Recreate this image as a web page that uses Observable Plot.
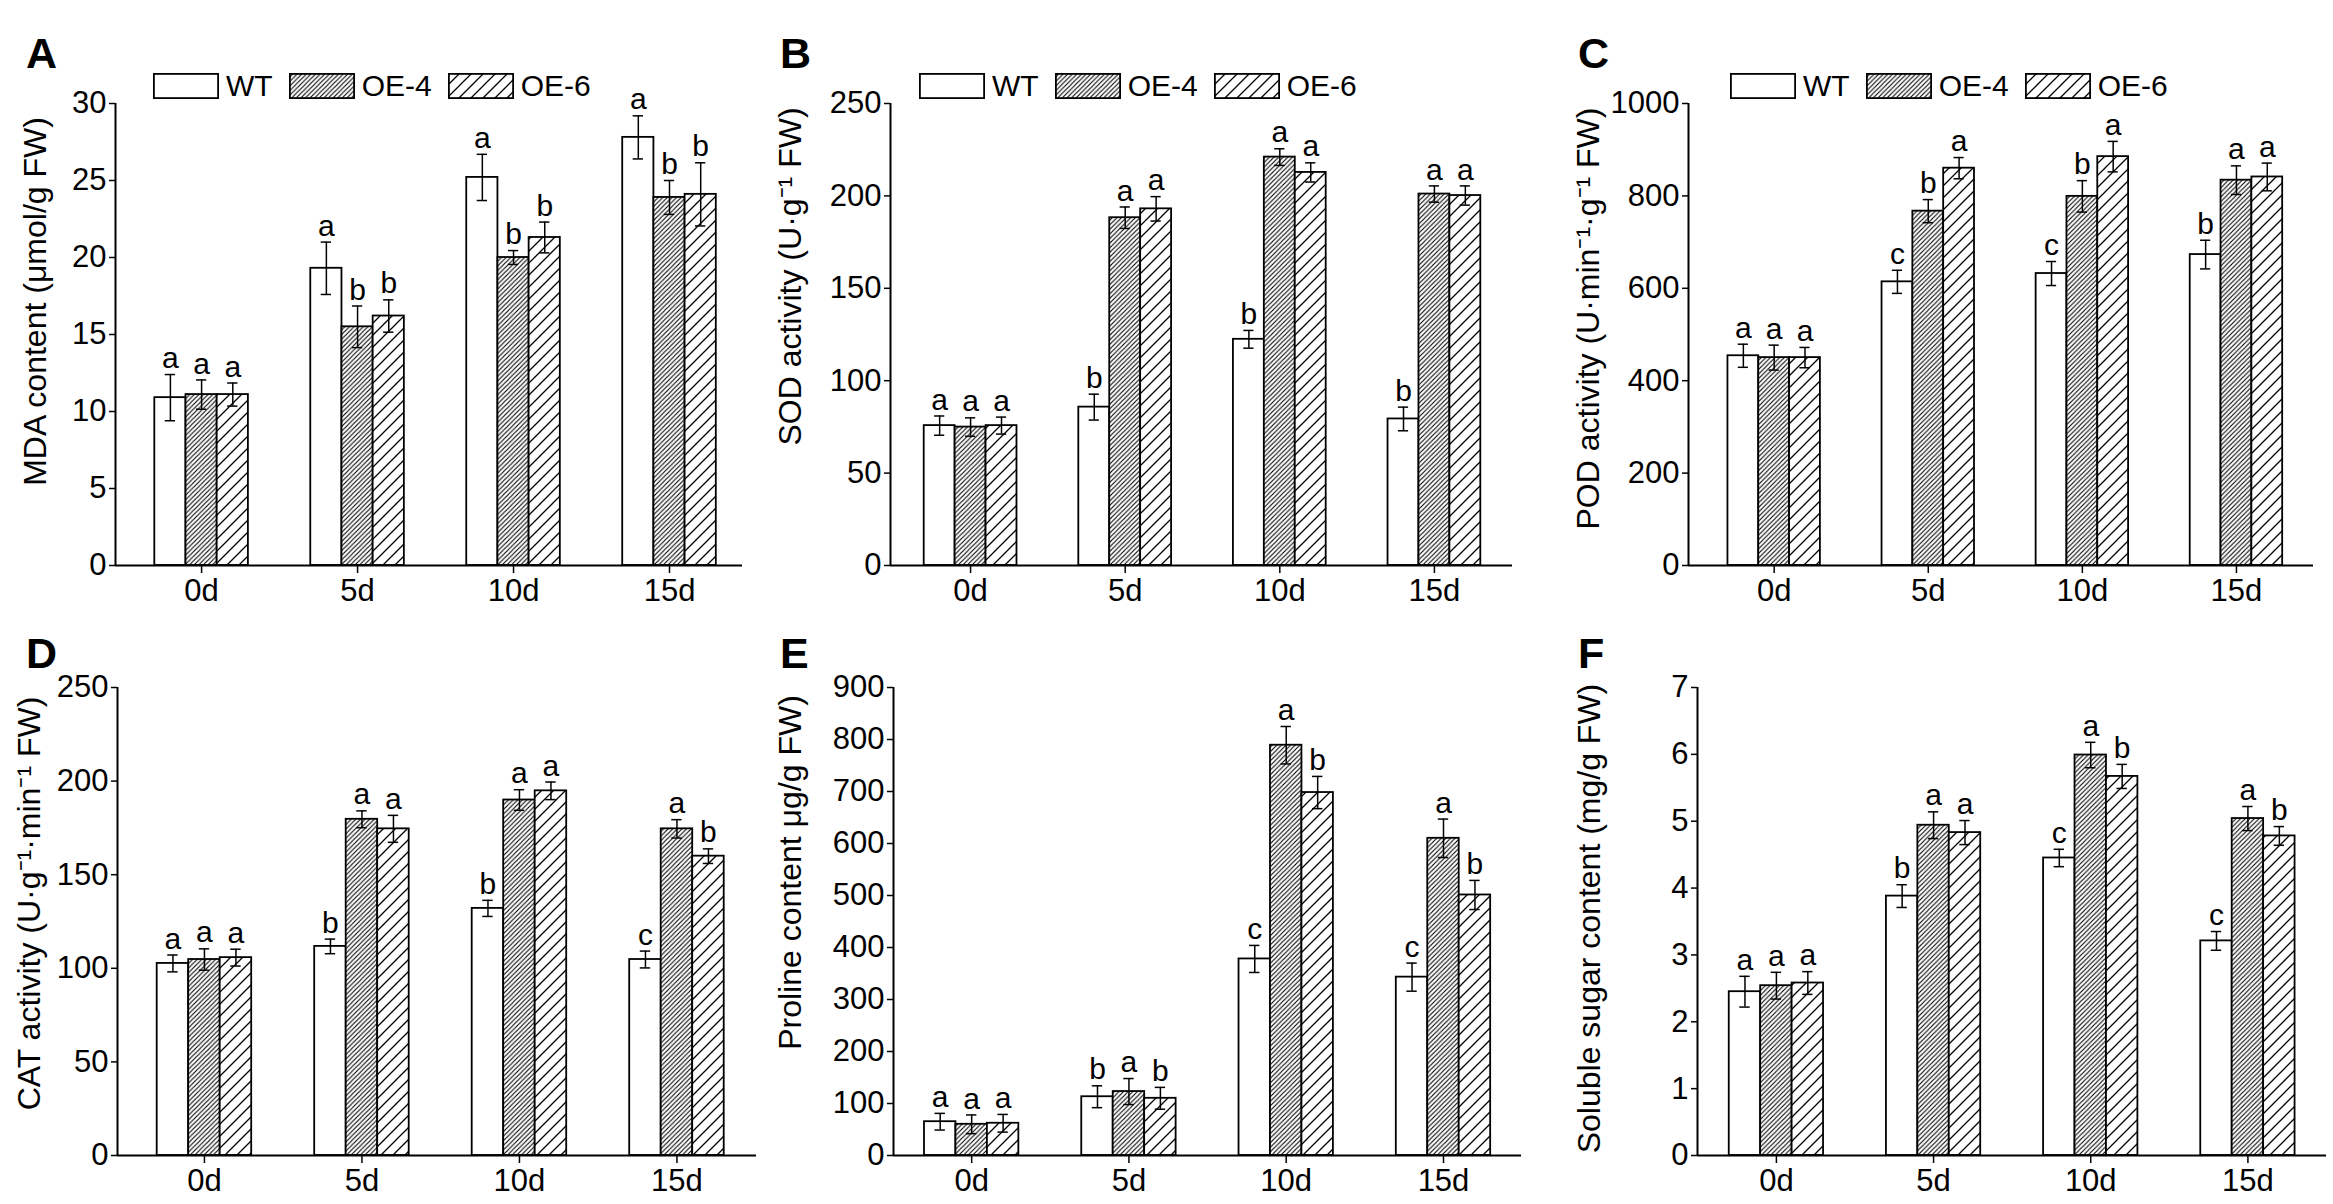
<!DOCTYPE html>
<html>
<head>
<meta charset="utf-8">
<script src="https://cdn.jsdelivr.net/npm/d3@7"></script>
<script src="https://cdn.jsdelivr.net/npm/@observablehq/plot@0.6"></script>
<style>
  body { margin: 0; background: #fff; font-family: "Liberation Sans", Arial, sans-serif; }
  #fig { position: relative; width: 2333px; height: 1204px; overflow: hidden; background: #fff; }
  .panel { position: absolute; }
  .panel svg { overflow: visible; }
  .tag { position: absolute; font-weight: bold; font-size: 43px; line-height: 1; }
  .legend { position: absolute; display: flex; align-items: center; font-size: 30px; line-height: 1; height: 26px; }
  .legend svg { display: block; }
  .legend span { margin: 0 16px 0 7px; }
</style>
</head>
<body>
<svg width="0" height="0" style="position:absolute">
  <defs>
    <pattern id="hatchOE4" patternUnits="userSpaceOnUse" width="4.6" height="4.6">
      <rect width="4.6" height="4.6" fill="white"></rect>
      <path d="M-1,1 L1,-1 M0,4.6 L4.6,0 M3.6,5.6 L5.6,3.6" stroke="black" stroke-width="1.1"></path>
    </pattern>
    <pattern id="hatchOE6" patternUnits="userSpaceOnUse" width="12" height="12">
      <rect width="12" height="12" fill="white"></rect>
      <path d="M-1,1 L1,-1 M0,12 L12,0 M11,13 L13,11" stroke="black" stroke-width="1.3"></path>
    </pattern>
  </defs>
</svg>
<div id="fig"></div>
<script>
// groups and genotypes
const days = ["0d", "5d", "10d", "15d"];
const genotypes = ["WT", "OE-4", "OE-6"];
const fills = ["white", "url(#hatchOE4)", "url(#hatchOE6)"];

// A: MDA  (rows: WT, OE-4, OE-6)
const mdaMean = [[10.9, 19.3, 25.2, 27.8], [11.1, 15.5, 20.0, 23.9], [11.1, 16.2, 21.3, 24.1]];
const mdaErr  = [[1.5, 1.7, 1.5, 1.4], [0.95, 1.35, 0.45, 1.1], [0.75, 1.05, 1.0, 2.05]];
const mdaSig  = [["a", "a", "a", "a"], ["a", "b", "b", "b"], ["a", "b", "b", "b"]];
const mdaTicks = [0, 5, 10, 15, 20, 25, 30];

// B: SOD
const sodMean = [[75.7, 85.7, 122.4, 79.3], [74.9, 188.2, 221, 201], [75.7, 193, 212.7, 200.2]];
const sodErr  = [[5.2, 7, 4.8, 6.4], [5, 5.8, 4.5, 4.4], [4.6, 6.6, 5.2, 5.2]];
const sodSig  = [["a", "b", "b", "b"], ["a", "a", "a", "a"], ["a", "a", "a", "a"]];
const sodTicks = [0, 50, 100, 150, 200, 250];

// C: POD
const podMean = [[454, 614, 632, 673], [450, 767, 799, 834], [450, 860, 885, 841]];
const podErr  = [[25, 25, 26, 31], [27, 25, 34, 31], [22, 23, 33, 30]];
const podSig  = [["a", "c", "c", "b"], ["a", "b", "b", "a"], ["a", "a", "a", "a"]];
const podTicks = [0, 200, 400, 600, 800, 1000];

// D: CAT
const catMean = [[102.6, 111.7, 132, 104.7], [104.7, 179.6, 189.9, 174.5], [105.7, 174.5, 194.8, 159.9]];
const catErr  = [[4.5, 3.9, 4.3, 4.5], [5.7, 4.5, 5.5, 4.9], [4.5, 7.2, 4.7, 3.9]];
const catSig  = [["a", "b", "b", "c"], ["a", "a", "a", "a"], ["a", "a", "a", "b"]];
const catTicks = [0, 50, 100, 150, 200, 250];

// E: Proline
const proMean = [[65, 113, 378, 343], [60, 123, 789, 610], [62, 110, 698, 501]];
const proErr  = [[16, 21, 26, 27], [18, 25, 36, 37], [17, 21, 31, 28]];
const proSig  = [["a", "b", "c", "c"], ["a", "a", "a", "a"], ["a", "b", "b", "b"]];
const proTicks = [0, 100, 200, 300, 400, 500, 600, 700, 800, 900];

// F: Soluble sugar
const sugMean = [[2.45, 3.88, 4.45, 3.21], [2.54, 4.94, 5.99, 5.04], [2.58, 4.83, 5.67, 4.78]];
const sugErr  = [[0.23, 0.17, 0.13, 0.14], [0.2, 0.2, 0.19, 0.18], [0.17, 0.18, 0.18, 0.14]];
const sugSig  = [["a", "b", "c", "c"], ["a", "a", "a", "a"], ["a", "a", "b", "b"]];
const sugTicks = [0, 1, 2, 3, 4, 5, 6, 7];

const panels = [
  {tag: "A", mean: mdaMean, err: mdaErr, sig: mdaSig, ticks: mdaTicks, title: "MDA content (\u03bcmol/g FW)",
   left: 0, top: 0, width: 778, ml: 115, mr: 36, xd: [-0.552, 3.468], tdx: -80, tdy: -33, legend: 153},
  {tag: "B", mean: sodMean, err: sodErr, sig: sodSig, ticks: sodTicks, title: "SOD activity (U\u00b7g\u207b\u00b9 FW)",
   left: 778, top: 0, width: 775, ml: 112, mr: 41, xd: [-0.518, 3.505], tdx: -100, tdy: -58, legend: 919},
  {tag: "C", mean: podMean, err: podErr, sig: podSig, ticks: podTicks, title: "POD activity (U\u00b7min\u207b\u00b9\u00b7g\u207b\u00b9 FW)",
   left: 1553, top: 0, width: 780, ml: 135, mr: 20, xd: [-0.556, 3.5], tdx: -100, tdy: -16, legend: 1730},
  {tag: "D", mean: catMean, err: catErr, sig: catSig, ticks: catTicks, title: "CAT activity (U\u00b7g\u207b\u00b9\u00b7min\u207b\u00b9 FW)",
   left: 0, top: 600, width: 778, ml: 117, mr: 22, xd: [-0.552, 3.505], tdx: -88, tdy: -18},
  {tag: "E", mean: proMean, err: proErr, sig: proSig, ticks: proTicks, title: "Proline content \u03bcg/g FW)",
   left: 778, top: 600, width: 775, ml: 115, mr: 32, xd: [-0.497, 3.496], tdx: -103, tdy: -49},
  {tag: "F", mean: sugMean, err: sugErr, sig: sugSig, ticks: sugTicks, title: "Soluble sugar content (mg/g FW)",
   left: 1553, top: 600, width: 780, ml: 144, mr: 7, xd: [-0.502, 3.5], tdx: -108, tdy: -3},
];

const fig = document.querySelector("#fig");
const barW = 0.2;
const capW = 0.033;

for (const p of panels) {
  const rows = [];
  genotypes.forEach((g, gi) => {
    days.forEach((day, i) => {
      rows.push({g, gi, i, day, v: p.mean[gi][i], e: p.err[gi][i], s: p.sig[gi][i], xc: i + (gi - 1) * barW});
    });
  });
  const row1 = p.top === 0;
  const mt = row1 ? 103 : 87;
  const plotH = row1 ? 462 : 468;
  const mb = row1 ? 45 : 49;

  const bars = genotypes.map((g, gi) =>
    Plot.rect(rows.filter((d) => d.gi === gi), {
      x1: (d) => d.xc - barW / 2,
      x2: (d) => d.xc + barW / 2,
      y1: 0,
      y2: "v",
      fill: fills[gi],
      stroke: "black",
      strokeWidth: 1.8,
    })
  );

  const plot = Plot.plot({
    width: p.width,
    height: mt + plotH + mb,
    marginLeft: p.ml,
    marginRight: p.mr,
    marginTop: mt,
    marginBottom: mb,
    style: {fontSize: "31px", fontFamily: '"Liberation Sans", Arial, sans-serif', background: "transparent", color: "black"},
    x: {type: "linear", domain: p.xd},
    y: {domain: [0, p.ticks[p.ticks.length - 1]]},
    marks: [
      ...bars,
      Plot.ruleX(rows, {x: "xc", y1: (d) => d.v - d.e, y2: (d) => d.v + d.e, strokeWidth: 1.5}),
      Plot.ruleY(rows, {y: (d) => d.v + d.e, x1: (d) => d.xc - capW, x2: (d) => d.xc + capW, strokeWidth: 1.5}),
      Plot.ruleY(rows, {y: (d) => d.v - d.e, x1: (d) => d.xc - capW, x2: (d) => d.xc + capW, strokeWidth: 1.5}),
      Plot.text(rows, {x: "xc", y: (d) => d.v + d.e, text: "s", dy: -16, fontSize: 30}),
      Plot.ruleY([0], {strokeWidth: 2}),
      Plot.ruleX([p.xd[0]], {strokeWidth: 2}),
      Plot.axisY({ticks: p.ticks, tickFormat: (d) => `${d}`, tickSize: 6, tickPadding: 3, label: null, strokeWidth: 1.5}),
      Plot.axisX({ticks: [0, 1, 2, 3], tickFormat: (i) => days[i], tickSize: 8, tickPadding: 5, label: null, strokeWidth: 1.5}),
      Plot.text([p.title], {text: (d) => d, frameAnchor: "left", textAnchor: "middle", rotate: -90, dx: p.tdx, dy: p.tdy, fontSize: 32}),
    ],
  });

  const wrap = document.createElement("div");
  wrap.className = "panel";
  wrap.style.left = p.left + "px";
  wrap.style.top = p.top + "px";
  wrap.append(plot);
  fig.append(wrap);

  const tag = document.createElement("div");
  tag.className = "tag";
  tag.textContent = p.tag;
  tag.style.left = (p.left + (p.tag === "B" || p.tag === "E" ? 2 : p.tag === "C" || p.tag === "F" ? 25 : 26)) + "px";
  tag.style.top = (p.top + 32) + "px";
  fig.append(tag);

  if (p.legend !== undefined) {
    const lg = document.createElement("div");
    lg.className = "legend";
    lg.style.left = p.legend + "px";
    lg.style.top = "73px";
    genotypes.forEach((g, gi) => {
      const sw = document.createElementNS("http://www.w3.org/2000/svg", "svg");
      sw.setAttribute("width", 66);
      sw.setAttribute("height", 26);
      sw.innerHTML = `<rect x="0.9" y="0.9" width="64.2" height="24.2" fill="${fills[gi]}" stroke="black" stroke-width="1.8"></rect>`;
      const t = document.createElement("span");
      t.textContent = g;
      lg.append(sw, t);
    });
    fig.append(lg);
  }
}
</script>
</body>
</html>
